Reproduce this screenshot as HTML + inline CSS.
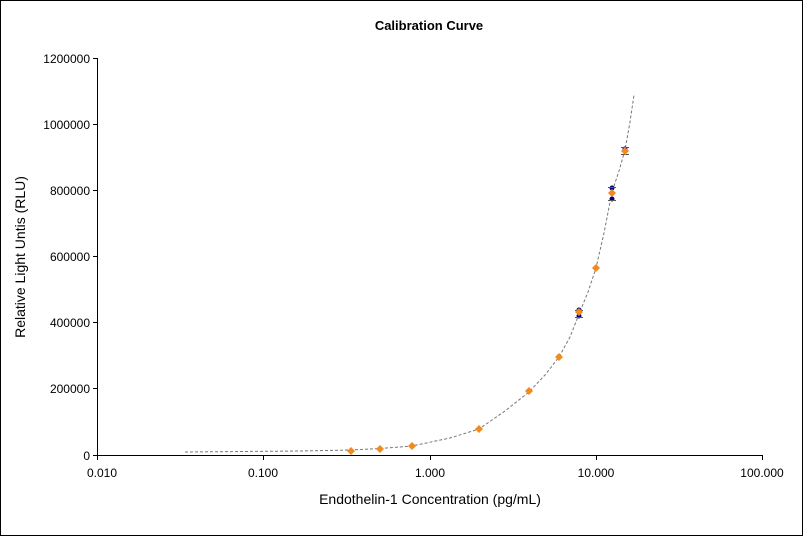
<!DOCTYPE html>
<html><head><meta charset="utf-8"><style>
html,body{margin:0;padding:0;background:#fff;}
svg{display:block;font-family:"Liberation Sans",Arial,sans-serif;}
</style></head><body>
<svg width="803" height="536" viewBox="0 0 803 536" xmlns="http://www.w3.org/2000/svg">
<rect x="0.5" y="0.5" width="802" height="535" fill="#fff" stroke="#000"/>
<text x="429" y="30" font-size="13" font-weight="bold" text-anchor="middle">Calibration Curve</text>
<g stroke="#000" stroke-width="1" fill="none">
<line x1="97.5" y1="58" x2="97.5" y2="455"/>
<line x1="97" y1="455.5" x2="763" y2="455.5"/>
<line x1="93" y1="58.5" x2="97" y2="58.5"/>
<line x1="93" y1="124.5" x2="97" y2="124.5"/>
<line x1="93" y1="190.5" x2="97" y2="190.5"/>
<line x1="93" y1="256.5" x2="97" y2="256.5"/>
<line x1="93" y1="322.5" x2="97" y2="322.5"/>
<line x1="93" y1="388.5" x2="97" y2="388.5"/>
<line x1="93" y1="455.5" x2="97" y2="455.5"/>
<line x1="97.5" y1="455" x2="97.5" y2="460"/>
<line x1="263.5" y1="455" x2="263.5" y2="460"/>
<line x1="430.5" y1="455" x2="430.5" y2="460"/>
<line x1="596.5" y1="455" x2="596.5" y2="460"/>
<line x1="762.5" y1="455" x2="762.5" y2="460"/>
</g>
<g font-size="12" text-anchor="end">
<text x="90" y="63">1200000</text>
<text x="90" y="129">1000000</text>
<text x="90" y="195">800000</text>
<text x="90" y="261">600000</text>
<text x="90" y="327">400000</text>
<text x="90" y="393">200000</text>
<text x="90" y="460">0</text>
</g>
<g font-size="12" text-anchor="middle">
<text x="102" y="477">0.010</text>
<text x="263" y="477">0.100</text>
<text x="430" y="477">1.000</text>
<text x="596" y="477">10.000</text>
<text x="762" y="477">100.000</text>
</g>
<text x="430" y="504" font-size="14" text-anchor="middle">Endothelin-1 Concentration (pg/mL)</text>
<text transform="translate(25,257) rotate(-90)" font-size="14" text-anchor="middle">Relative Light Untis (RLU)</text>
<path d="M185,452 L300,451 L351,450 L380,448.5 L412,446 L450,438 L479,429 L505,411 L529,392 L545,375 L559,357 L570,337 L579,314 L588,292 L596,268 L604,233 L612,192 L619,171 L625,150 L630,122 L634,95" fill="none" stroke="#777" stroke-width="1" stroke-dasharray="3,2"/>
<g fill="#000080">
<circle cx="579" cy="316" r="2.5"/><circle cx="579" cy="310" r="2.5"/>
<circle cx="612" cy="188" r="2.5"/><circle cx="612" cy="199" r="2.5"/>
<circle cx="625" cy="149" r="2.5"/>
</g>
<g stroke="#555" stroke-width="1">
<line x1="575" y1="310.5" x2="583" y2="310.5"/><line x1="575" y1="317.5" x2="583" y2="317.5"/>
<line x1="608" y1="187.5" x2="616" y2="187.5"/><line x1="608" y1="200.5" x2="616" y2="200.5"/>
<line x1="621" y1="147.5" x2="629" y2="147.5"/><line x1="621" y1="154.5" x2="629" y2="154.5"/>
</g>
<g fill="#f28a1e">
<path d="M351,447 l4,4 l-4,4 l-4,-4z"/>
<path d="M380,445 l4,4 l-4,4 l-4,-4z"/>
<path d="M412,442 l4,4 l-4,4 l-4,-4z"/>
<path d="M479,425 l4,4 l-4,4 l-4,-4z"/>
<path d="M529,387 l4,4 l-4,4 l-4,-4z"/>
<path d="M559,353 l4,4 l-4,4 l-4,-4z"/>
<path d="M579,308 l4,4 l-4,4 l-4,-4z"/>
<path d="M596,264 l4,4 l-4,4 l-4,-4z"/>
<path d="M612,189 l4,4 l-4,4 l-4,-4z"/>
<path d="M625,147 l4,4 l-4,4 l-4,-4z"/>
</g>
</svg>
</body></html>
